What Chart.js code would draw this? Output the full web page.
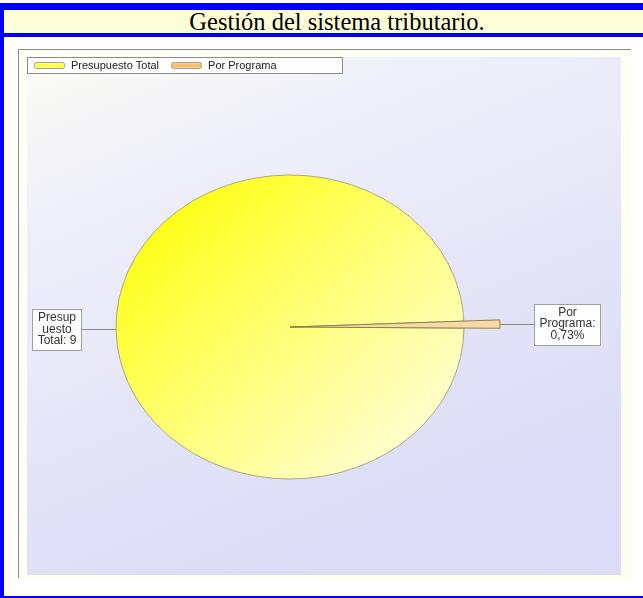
<!DOCTYPE html>
<html><head><meta charset="utf-8">
<script src="https://cdn.jsdelivr.net/npm/chart.js@4.4.1/dist/chart.umd.min.js"></script>
<style>
html,body{margin:0;padding:0;background:#fff;width:643px;height:598px;overflow:hidden;position:relative}
.b{position:absolute;background:#0000ff}
#title{position:absolute;left:4px;top:10px;width:639px;height:23px;background:#fefed6;font-family:"Liberation Serif","Times New Roman",serif;font-size:24.5px;line-height:24px;text-align:center;color:#000;padding-left:27px;box-sizing:border-box;white-space:nowrap;overflow:hidden}
#wrap{position:absolute;left:18px;top:49px;width:614px;height:531px}
canvas{display:block}
</style></head><body>
<div class="b" style="left:0;top:3px;width:643px;height:7px"></div>
<div id="title">Gestión del sistema tributario.</div>
<div class="b" style="left:0;top:33px;width:643px;height:4px"></div>
<div class="b" style="left:0;top:3px;width:4px;height:595px"></div>
<div class="b" style="left:0;top:596px;width:643px;height:2px"></div>
<div id="wrap"><canvas id="c" width="614" height="531" style="width:614px;height:531px"></canvas></div>
<script>
// ---- data ----
const categories = ["Presupuesto Total", "Por Programa"];
const values = [99.27, 0.73];
const calloutLines = [["Presup", "uesto", "Total: 9"], ["Por", "Programa:", "0,73%"]];

// ---- styles ----
const Y_SQUASH = 152 / 174;      // pie is drawn as an ellipse
const PROG_RADIUS_FACTOR = 1.207; // small slice sticks out of the pie
const FONT = '"Liberation Sans", Arial, sans-serif';

const ctx0 = document.getElementById('c').getContext('2d');
function pieFill(ctx) {
  const g = ctx0.createLinearGradient(132, 141, 422, 421);
  g.addColorStop(0, '#ffff10');
  g.addColorStop(0.45, '#ffff70');
  g.addColorStop(1, '#ffffdc');
  return g;
}

const bgPlugin = {
  id: 'bg',
  beforeDraw(chart) {
    const ctx = chart.ctx, W = chart.width, H = chart.height;
    ctx.save();
    let g = ctx.createLinearGradient(0, 0, W, H);
    g.addColorStop(0, '#fffff8'); g.addColorStop(1, '#fdfdee');
    ctx.fillStyle = g; ctx.fillRect(0, 0, W, H);
    const px = 9, py = 8, pw = 594, ph = 518;
    g = ctx.createLinearGradient(px, py, px + pw * 0.35, py + ph);
    g.addColorStop(0, '#fbfbf4'); g.addColorStop(0.3, '#efeffa'); g.addColorStop(1, '#dcdcf6');
    ctx.fillStyle = g; ctx.fillRect(px, py, pw, ph);
    ctx.strokeStyle = '#8a8a8a'; ctx.lineWidth = 1;
    ctx.beginPath(); ctx.moveTo(0.5, H - 2); ctx.lineTo(0.5, 0.5); ctx.lineTo(W - 1, 0.5); ctx.stroke();
    ctx.restore();
  }
};

const ellipsePlugin = {
  id: 'ellipse',
  beforeDatasetsDraw(chart) {
    const meta = chart.getDatasetMeta(0);
    const base = meta.data[0];
    meta.data[1].outerRadius = base.outerRadius * PROG_RADIUS_FACTOR;
    const ctx = chart.ctx;
    ctx.save();
    ctx.translate(base.x, base.y); ctx.scale(1, Y_SQUASH); ctx.translate(-base.x, -base.y);
  },
  afterDatasetsDraw(chart) {
    const ctx = chart.ctx;
    ctx.restore();
    const meta = chart.getDatasetMeta(0);
    // callouts
    ctx.save();
    ctx.font = '12px ' + FONT;
    meta.data.forEach((arc, i) => {
      const mid = (arc.startAngle + arc.endAngle) / 2;
      const r = arc.outerRadius;
      const ax = arc.x + Math.cos(mid) * r;
      const ay = arc.y + Math.sin(mid) * r * Y_SQUASH;
      const lines = calloutLines[i];
      const tw = Math.max(...lines.map(l => ctx.measureText(l).width));
      const bw = Math.round(tw + 10), bh = 41;
      const left = Math.cos(mid) < 0;
      const lx = left ? ax - 35 : ax + 34;
      ctx.strokeStyle = '#8c8c8c'; ctx.lineWidth = 1;
      ctx.beginPath(); ctx.moveTo(ax, Math.round(ay) + 0.5); ctx.lineTo(lx, Math.round(ay) + 0.5); ctx.stroke();
      const bx = Math.round(left ? lx - bw : lx) + 0.5;
      const by = Math.round(ay - bh / 2) + 0.5;
      ctx.fillStyle = '#fefefe'; ctx.fillRect(bx, by, bw, bh);
      ctx.strokeStyle = '#a0a0a0'; ctx.strokeRect(bx, by, bw, bh);
      ctx.fillStyle = '#333'; ctx.textAlign = 'center'; ctx.textBaseline = 'middle';
      lines.forEach((l, k) => ctx.fillText(l, bx + bw / 2, ay + (k - 1) * 11.5));
    });
    ctx.restore();
    // legend
    ctx.save();
    ctx.font = '11px ' + FONT;
    ctx.fillStyle = '#fefefe'; ctx.fillRect(9.5, 8.5, 315, 16);
    ctx.strokeStyle = '#8c8c8c'; ctx.lineWidth = 1; ctx.strokeRect(9.5, 8.5, 315, 16);
    const swatch = [['#ffff30', '#ffffb0'], ['#f6b860', '#fbe0b0']];
    let x = 16;
    categories.forEach((c, i) => {
      const g = ctx.createLinearGradient(0, 13, 0, 20);
      g.addColorStop(0, swatch[i][1]); g.addColorStop(0.5, swatch[i][0]); g.addColorStop(1, swatch[i][1]);
      ctx.fillStyle = g;
      ctx.beginPath(); ctx.roundRect(x + 0.5, 13.5, 30, 6, 2); ctx.fill();
      ctx.strokeStyle = '#a0a0a0'; ctx.stroke();
      ctx.fillStyle = '#222'; ctx.textAlign = 'left'; ctx.textBaseline = 'middle';
      ctx.fillText(c, x + 37, 17);
      x += 37 + ctx.measureText(c).width + 12;
    });
    ctx.restore();
  }
};

new Chart(document.getElementById('c'), {
  type: 'pie',
  data: {
    labels: categories,
    datasets: [{
      data: values,
      backgroundColor: [pieFill(ctx0), '#f7d9a3'],
      borderColor: ['#a4a47a', '#8a7a45'],
      borderWidth: 1,
      radius: 174
    }]
  },
  options: {
    responsive: false,
    animation: false,
    events: [],
    rotation: 90.4,
    layout: { padding: { left: 98, right: 168, top: 104, bottom: 79 } },
    plugins: { legend: { display: false }, tooltip: { enabled: false } }
  },
  plugins: [bgPlugin, ellipsePlugin]
});
</script>
</body></html>
